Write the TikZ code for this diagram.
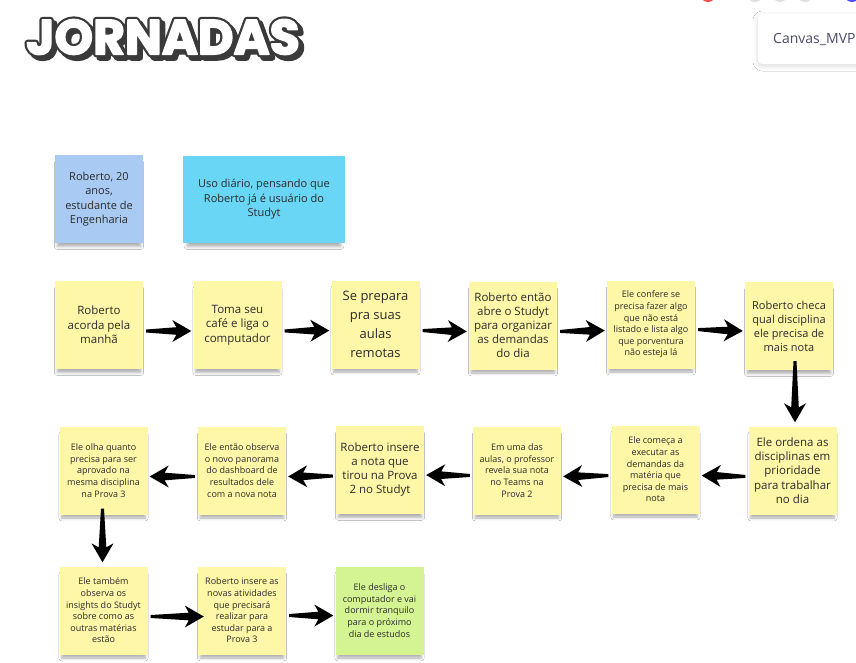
\documentclass[tikz,border=0pt]{standalone}
\usepackage{fontspec}
\setmainfont{Open Sans}
\newfontfamily\titlefont{Poppins}
\usetikzlibrary{calc,shadows.blur}

\definecolor{noteyellow}{HTML}{FFF7A8}
\definecolor{noteblue}{HTML}{A8CAF3}
\definecolor{notecyan}{HTML}{6AD6F6}
\definecolor{notegreen}{HTML}{D4F493}
\definecolor{notetext}{HTML}{2B2B2B}
\definecolor{titledark}{HTML}{3A3A3A}
\definecolor{cardtext}{HTML}{4B4A6B}

% stroked lettering: #1 = stroke colour (r g b), #2 = stroke width, #3 = text
\newcommand{\strokedtext}[3]{%
  \special{pdf:literal direct #1 RG #2 w 1 j 2 Tr}#3\special{pdf:literal direct 0 Tr}}

\tikzset{
  sticky/.style={rectangle, minimum width=88pt, minimum height=88pt, inner sep=2pt,
    align=center, text=notetext, fill=noteyellow,
    blur shadow={shadow xshift=0pt, shadow yshift=-6pt, shadow scale=0.95,
      shadow blur radius=3pt, shadow opacity=32}},
  bigtxt/.style={font=\fontsize{11.5}{14.5}\selectfont},
  smalltxt/.style={font=\fontsize{9}{11.6}\selectfont},
  titletxt/.style={font=\titlefont\bfseries\fontsize{49}{49}\selectfont, inner sep=0pt},
  % thick tapered arrow drawn as a filled outline along the connector
  taper/.style={draw=none, fill=black, to path={
    let \p1=(\tikztostart), \p2=(\tikztotarget),
        \n1={atan2(\y2-\y1,\x2-\x1)}, \n2={veclen(\x2-\x1,\y2-\y1)} in
    [shift={(\p1)}, rotate=\n1]
    (3pt,-1.5pt) -- ({\n2-17pt},-3.8pt) -- ({\n2-21pt},-11pt) -- ({\n2-2pt},0pt)
    -- ({\n2-21pt},11pt) -- ({\n2-17pt},3.8pt) -- (3pt,1.5pt) -- cycle}},
}

\begin{document}
\begin{tikzpicture}[x=1pt, y=-1pt]
\useasboundingbox[fill=white] (0,0) rectangle (856,662);

% window controls peeking in at the top edge
\fill[red!70!white] (708,-6) circle (8);
\fill[black!12] (755,-6) circle (8);
\fill[black!12] (780,-6) circle (8);
\fill[black!12] (805,-6) circle (8);
\fill[blue!70!white] (852,-6) circle (8);

% board name card
\node[fill=white, rounded corners=4pt, minimum width=112pt, minimum height=50pt,
  blur shadow={shadow xshift=0pt, shadow yshift=-2pt, shadow blur radius=5pt, shadow opacity=15}]
  (card) at (814,39) {};
\node[anchor=west, text=cardtext, font=\fontsize{14}{16}\selectfont, inner sep=0pt]
  (cardlabel) at (773,40) {Canvas\_MVP};

% title: extruded shadow, dark outline, then the white face on top
\node[titletxt, text=titledark] (titleshadow) at (166.5,40.5)
  {\strokedtext{0.227 0.227 0.227}{6}{JORNADAS}};
\node[titletxt, text=titledark] (titleline) at (163,37)
  {\strokedtext{0.227 0.227 0.227}{6}{JORNADAS}};
\node[titletxt, text=white] (title) at (163,37)
  {\strokedtext{1 1 1}{1.6}{JORNADAS}};

% persona and context notes
\node[sticky, fill=noteblue, font=\fontsize{11}{14.3}\selectfont] (persona) at (99,199)
  {Roberto, 20\\anos,\\estudante de\\Engenharia};
\node[sticky, fill=notecyan, minimum width=162pt, minimum height=87pt, font=\fontsize{11}{14.5}\selectfont]
  (context) at (264,199.5) {Uso diário, pensando que\\Roberto já é usuário do\\Studyt};

% row 1
\node[sticky, bigtxt] (n1) at (99,325) {Roberto\\acorda pela\\manhã};
\node[sticky, bigtxt] (n2) at (237.5,325) {Toma seu\\café e liga o\\computador};
\node[sticky, font=\fontsize{13}{19}\selectfont] (n3) at (375.5,324.5) {Se prepara\\pra suas\\aulas\\remotas};
\node[sticky, font=\fontsize{11.5}{14}\selectfont] (n4) at (513,325.5) {Roberto então\\abre o Studyt\\para organizar\\as demandas\\do dia};
\node[sticky, smalltxt] (n5) at (651,324.5) {Ele confere se\\precisa fazer algo\\que não está\\listado e lista algo\\que porventura\\não esteja lá};
\node[sticky, font=\fontsize{11}{14}\selectfont] (n6) at (789,326) {Roberto checa\\qual disciplina\\ele precisa de\\mais nota};

% row 2
\node[sticky, font=\fontsize{11.5}{14.3}\selectfont] (n7) at (792.5,470.5) {Ele ordena as\\disciplinas em\\prioridade\\para trabalhar\\no dia};
\node[sticky, smalltxt] (n8) at (655.5,469.5) {Ele começa a\\executar as\\demandas da\\matéria que\\precisa de mais\\nota};
\node[sticky, smalltxt] (n9) at (517,470.5) {Em uma das\\aulas, o professor\\revela sua nota\\no Teams na\\Prova 2};
\node[sticky, font=\fontsize{11.5}{14}\selectfont] (n10) at (380,470) {Roberto insere\\a nota que\\tirou na Prova\\2 no Studyt};
\node[sticky, smalltxt] (n11) at (242,470.5) {Ele então observa\\o novo panorama\\do dashboard de\\resultados dele\\com a nova nota};
\node[sticky, smalltxt] (n12) at (103.5,470.5) {Ele olha quanto\\precisa para ser\\aprovado na\\mesma disciplina\\na Prova 3};

% row 3
\node[sticky, smalltxt] (n13) at (103.5,610.5) {Ele também\\observa os\\insights do Studyt\\sobre como as\\outras matérias\\estão};
\node[sticky, smalltxt] (n14) at (242,610.5) {Roberto insere as\\novas atividades\\que precisará\\realizar para\\estudar para a\\Prova 3};
\node[sticky, smalltxt, fill=notegreen] (n15) at (379.5,610.5) {Ele desliga o\\computador e vai\\dormir tranquilo\\para o próximo\\dia de estudos};

% flow arrows
\path ([yshift=-6pt]n1.east) edge[taper] ([yshift=-6pt]n2.west);
\path ([yshift=-6pt]n2.east) edge[taper] ([yshift=-6pt]n3.west);
\path ([yshift=-6pt]n3.east) edge[taper] ([yshift=-6pt]n4.west);
\path ([yshift=-6pt]n4.east) edge[taper] ([yshift=-6pt]n5.west);
\path ([yshift=-5pt]n5.east) edge[taper] ([yshift=-5pt]n6.west);
\path ([xshift=6pt,yshift=12pt]n6.south) edge[taper] ([xshift=2.5pt,yshift=2pt]n7.north);
\path ([yshift=-6pt]n7.west) edge[taper] ([yshift=-6pt]n8.east);
\path ([yshift=-6pt]n8.west) edge[taper] ([yshift=-6pt]n9.east);
\path ([yshift=-5pt]n9.west) edge[taper] ([yshift=-5pt]n10.east);
\path ([yshift=-6pt]n10.west) edge[taper] ([yshift=-6pt]n11.east);
\path ([yshift=-6pt]n11.west) edge[taper] ([yshift=-6pt]n12.east);
\path ([xshift=-1pt,yshift=9pt]n12.south) edge[taper] ([xshift=-1pt,yshift=2pt]n13.north);
\path ([yshift=-6pt]n13.east) edge[taper] ([xshift=8pt,yshift=-6pt]n14.west);
\path ([yshift=-5pt]n14.east) edge[taper] ([yshift=-5pt]n15.west);
\end{tikzpicture}
\end{document}
